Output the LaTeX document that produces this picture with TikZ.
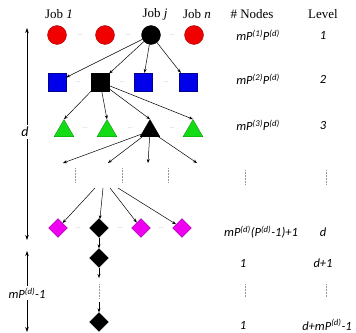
\documentclass[tikz,border=0pt]{standalone}
\usepackage{fontspec}
\setmainfont{Liberation Serif}
\newfontfamily\calib{Carlito}
\usetikzlibrary{shapes.geometric,arrows.meta}
\definecolor{cred}{RGB}{240,0,0}
\definecolor{cblue}{RGB}{0,0,235}
\definecolor{cgreen}{RGB}{20,220,20}
\definecolor{cmag}{RGB}{240,0,240}
\definecolor{cblk}{RGB}{0,0,0}
\tikzset{
  x=1pt,y=-1pt,
  circ/.style={circle,draw=#1!60!black,fill=#1,minimum size=19pt,inner sep=0pt,line width=0.3pt},
  sq/.style={rectangle,draw=#1!60!black,fill=#1,minimum size=18pt,inner sep=0pt,line width=0.3pt},
  tri/.style={regular polygon,regular polygon sides=3,draw=#1!60!black,fill=#1,minimum size=23pt,inner sep=0pt,line width=0.3pt},
  dia/.style={diamond,draw=#1!60!black,fill=#1,minimum width=19pt,minimum height=19pt,inner sep=0pt,line width=0.3pt},
  arr/.style={-{Stealth[length=4pt,width=3pt]},line width=0.5pt},
  dbl/.style={{Stealth[length=5pt,width=3.5pt]}-{Stealth[length=5pt,width=3.5pt]},line width=0.6pt},
  elli/.style={text=gray!70,font=\fontsize{6}{6}\selectfont,inner sep=0pt},
  vdots/.style={densely dotted,gray!80,line width=0.5pt},
  head/.style={font=\fontsize{13}{15}\selectfont,inner sep=0pt},
  lab/.style={font=\calib\itshape\fontsize{12.5}{14}\selectfont,inner sep=0pt},
}
\begin{document}
\begin{tikzpicture}
\useasboundingbox (0,0) rectangle (356,332);
% headers
\node[head] (h1) at (59,14) {Job \textit{1}};
\node[head] (h2) at (155,14) {Job \textit{j}};
\node[head] (h3) at (197,14) {Job \textit{n}};
\node[head] (h4) at (252,14) {\# Nodes};
\node[head] (h5) at (323,14) {Level};
% level 1 circles
\node[circ=cred] (c1) at (57,35) {};
\node[circ=cred] (c2) at (105,35) {};
\node[circ=cblk] (c3) at (151,35) {};
\node[circ=cred] (c4) at (194,35) {};
\node[elli] (e11) at (80,35) {...};
\node[elli] (e12) at (128,35) {...};
\node[elli] (e13) at (172,35) {...};
% level 2 squares
\node[sq=cblue] (s1) at (57,82) {};
\node[sq=cblk] (s2) at (100,82) {};
\node[sq=cblue] (s3) at (143,82) {};
\node[sq=cblue] (s4) at (188,82) {};
\node[elli] (e21) at (78,82) {...};
\node[elli] (e22) at (122,82) {...};
\node[elli] (e23) at (166,82) {...};
\foreach \i in {1,...,4} \draw[arr] (c3) -- (s\i);
% level 3 triangles
\node[tri=cgreen] (t1) at (64,131) {};
\node[tri=cgreen] (t2) at (107,131) {};
\node[tri=cblk] (t3) at (150,131) {};
\node[tri=cgreen] (t4) at (193,131) {};
\node[elli] (e31) at (85,128) {...};
\node[elli] (e32) at (130,128) {...};
\node[elli] (e33) at (172,128) {...};
\foreach \i in {1,...,4} \draw[arr] (s2) -- (t\i.north);
% arrows from black triangle
\coordinate (a1) at (63,163);
\coordinate (a2) at (108,163);
\coordinate (a3) at (148,163);
\coordinate (a4) at (197,163);
\foreach \i in {1,...,4} \draw[arr] (t3) -- (a\i);
% dotted
\draw[vdots] (75,168) -- (75,183);
\draw[vdots] (122,168) -- (122,183);
\draw[vdots] (168,168) -- (168,183);
% diamonds
\node[dia=cmag] (d1) at (58,228) {};
\node[dia=cblk] (d2) at (99,228) {};
\node[dia=cmag] (d3) at (141,228) {};
\node[dia=cmag] (d4) at (182,228) {};
\node[elli] (e41) at (78,228) {...};
\node[elli] (e42) at (120,228) {...};
\node[elli] (e43) at (161,228) {...};
\coordinate (b1) at (95,188);
\coordinate (b2) at (103,188);
\coordinate (b3) at (110,188);
\coordinate (b4) at (118,188);
\foreach \i in {1,...,4} \draw[arr] (b\i) -- (d\i);
% chain
\node[dia=cblk] (k1) at (99,258) {};
\node[dia=cblk] (k2) at (99,322) {};
\draw[arr] (d2) -- (k1);
\coordinate (f1) at (99,278);
\coordinate (f2) at (99,302);
\draw[arr] (k1) -- (f1);
\draw[vdots] (99,284) -- (99,298);
\draw[arr] (f2) -- (k2);
% left arrows
\coordinate (l1) at (27,28);
\coordinate (l2) at (27,240);
\coordinate (l3) at (27,251);
\coordinate (l4) at (27,332);
\draw[dbl] (l1) -- (l2);
\draw[dbl] (l3) -- (l4);
\node[lab,fill=white,inner sep=2pt,font=\calib\itshape\fontsize{14}{16}\selectfont] (ld) at (25,132) {d};
\node[lab,fill=white,inner sep=2pt] (lm) at (27,293) {mP\textsuperscript{(d)}-1};
% right columns
\node[lab] (n1) at (258,35) {mP\textsuperscript{(1)}P\textsuperscript{(d)}};
\node[lab] (v1) at (323,35) {1};
\node[lab] (n2) at (258,79) {mP\textsuperscript{(2)}P\textsuperscript{(d)}};
\node[lab] (v2) at (323,79) {2};
\node[lab] (n3) at (258,125) {mP\textsuperscript{(3)}P\textsuperscript{(d)}};
\node[lab] (v3) at (323,125) {3};
\draw[vdots] (245,170) -- (245,185);
\draw[vdots] (326,170) -- (326,185);
\node[lab] (n4) at (261,232) {mP\textsuperscript{(d)}(P\textsuperscript{(d)}-1)+1};
\node[lab] (v4) at (323,232) {d};
\node[lab] (n5) at (243,263) {1};
\node[lab] (v5) at (323,263) {d+1};
\draw[vdots] (245,284) -- (245,297);
\draw[vdots] (326,284) -- (326,297);
\node[lab] (n6) at (243,325) {1};
\node[lab] (v6) at (327,325) {d+mP\textsuperscript{(d)}-1};
\end{tikzpicture}
\end{document}
